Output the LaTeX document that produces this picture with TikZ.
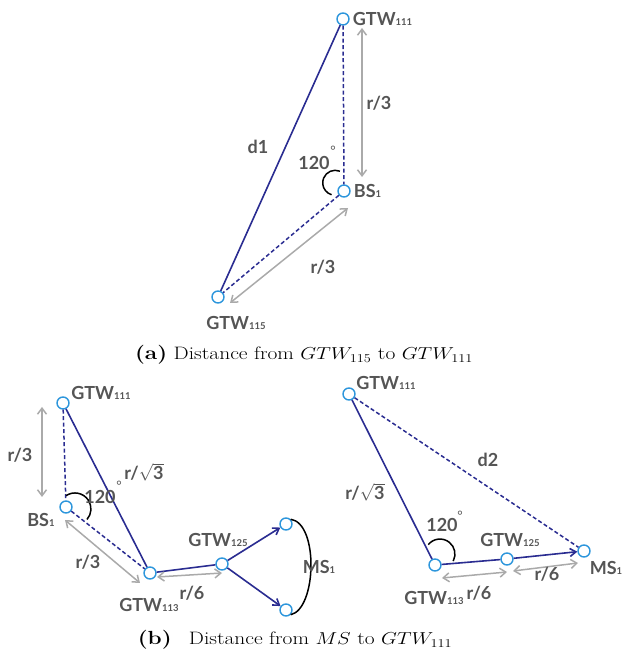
\documentclass[tikz,border=0pt]{standalone}
\usepackage{fontspec}
\newfontfamily\lato{Lato}
\usepackage{xcolor}
\definecolor{netblue}{RGB}{42,44,145}
\definecolor{stblue}{RGB}{45,150,220}
\definecolor{dimgray}{RGB}{170,170,170}
\definecolor{txtgray}{RGB}{85,85,85}
\usetikzlibrary{positioning,arrows.meta,calc}
\newcommand{\lsub}[1]{{\fontsize{9.5}{9.5}\selectfont #1}}

\begin{document}
\begin{tikzpicture}[x=1pt, y=1pt,
  stn/.style={circle, draw=stblue, line width=1.4pt, fill=white, minimum size=12pt, inner sep=0pt},
  lbl/.style={text=txtgray, font=\lato\bfseries\fontsize{18}{18}\selectfont, inner sep=1pt},
  deg/.style={text=txtgray, font=\lato\fontsize{13}{13}\selectfont, inner sep=0pt},
  link/.style={netblue, line width=1.6pt},
  dlink/.style={netblue, line width=1.5pt, dash pattern=on 4pt off 2.5pt},
  flow/.style={link, -{Straight Barb[length=6pt,width=8pt]}},
  dim/.style={dimgray, line width=1.5pt, {Straight Barb[length=6pt,width=9pt]}-{Straight Barb[length=6pt,width=9pt]}},
  ang/.style={black, line width=1.5pt},
  captxt/.style={font=\fontsize{18}{21}\selectfont, xscale=1.19, inner sep=0pt}]
  \useasboundingbox (0,0) rectangle (624,654);

  % (a) GTW115 -> GTW111
  \node[stn] (ga111) at (343,635) {};
  \node[stn] (bsa) at (344,463) {};
  \node[stn] (ga115) at (218,357) {};
  \draw[link] (ga115) -- (ga111);
  \draw[dlink] (ga111) -- (bsa);
  \draw[dlink] (bsa) -- (ga115);
  \draw[dim] ([shift={(19,-9)}]ga111.center) -- ([shift={(18,14)}]bsa.center);
  \draw[dim] ([shift={(12,-6)}]ga115.center) -- ([shift={(4,-17)}]bsa.center);
  \draw[ang] ([shift={(-4.1,19.8)}]bsa.center) arc[start angle=68, end angle=253, radius=12.5];
  \node[lbl, right=2pt of ga111] (la111) {GTW\lsub{111}};
  \node[lbl, right=2pt of bsa] (lbsa) {BS\lsub{1}};
  \node[lbl] (la115) at (236,331) {GTW\lsub{115}};
  \node[lbl] (ld1) at (258,507) {d1};
  \node[lbl] (lra1) at (379,551) {r/3};
  \node[lbl] (lra2) at (323,387) {r/3};
  \node[lbl] (langa) at (314,491) {120};
  \node[deg] (dega) at (333,503) {°};
  \node[captxt] (capa) at (304,299) {\textbf{\fontsize{19}{21}\selectfont(a)} Distance from $GTW_{115}$ to $GTW_{111}$};

  % (b) left: relay through GTW125
  \node[stn] (gb111) at (63,251) {};
  \node[stn] (bsb) at (66,147) {};
  \node[stn] (gb113) at (150,81) {};
  \node[stn] (gb125) at (222,90) {};
  \node[stn] (mst) at (286,130) {};
  \node[stn] (msb) at (286,44) {};
  \draw[link] (gb111) -- (gb113);
  \draw[link] (gb113) -- (gb125);
  \draw[flow] (gb125) -- (mst);
  \draw[flow] (gb125) -- (msb);
  \draw[dlink] (gb111) -- (bsb);
  \draw[dlink] (bsb) -- (gb113);
  \draw[dim] ([shift={(-21,-4)}]gb111.center) -- ([shift={(-24,10)}]bsb.center);
  \draw[dim] ([shift={(-1,-13)}]bsb.center) -- ([shift={(-10,-10)}]gb113.center);
  \draw[dim] ([shift={(7,-4)}]gb113.center) -- ([shift={(0,-9)}]gb125.center);
  \draw[ang] ([shift={(0,11.3)}]bsb.center) arc[start angle=124, end angle=-41, radius=16];
  \draw[ang] (mst.north east) .. controls +(28,-4) and +(26,6) .. (msb.south east);
  \node[lbl] (lb111) at (101,261) {GTW\lsub{111}};
  \node[lbl] (lbsb) at (41,134) {BS\lsub{1}};
  \node[lbl] (lb113) at (149,49) {GTW\lsub{113}};
  \node[lbl] (lb125) at (218,114) {GTW\lsub{125}};
  \node[lbl] (lms) at (319,87) {MS\lsub{1}};
  \node[lbl] (lrb1) at (20,199) {r/3};
  \node[lbl] (lrb2) at (88,92) {r/3};
  \node[lbl] (lrb3) at (192,61) {r/6};
  \node[lbl] (lsqb) at (144,182) {r/$\sqrt{\mbox{3}}$};
  \node[lbl] (langb) at (100,157) {120};
  \node[deg] (degb) at (119,168) {°};

  % (b) right: MS1 -> GTW111
  \node[stn] (gc111) at (349,260) {};
  \node[stn] (gc113) at (435,89) {};
  \node[stn] (gc125) at (507,95) {};
  \node[stn] (msc) at (584,103) {};
  \draw[link] (gc111) -- (gc113);
  \draw[link] (gc113) -- (gc125);
  \draw[flow] (gc125) -- (msc);
  \draw[dlink] (gc111) -- (msc);
  \draw[dim] ([shift={(7,-13)}]gc113.center) -- ([shift={(0,-13)}]gc125.center);
  \draw[dim] ([shift={(6,-12)}]gc125.center) -- ([shift={(-6,-12)}]msc.center);
  \draw[ang] ([shift={(-6.7,20.4)}]gc113.center) arc[start angle=141, end angle=-28, radius=15];
  \node[lbl] (lc111) at (386,271) {GTW\lsub{111}};
  \node[lbl] (lc113) at (434,56) {GTW\lsub{113}};
  \node[lbl] (lc125) at (510,114) {GTW\lsub{125}};
  \node[lbl] (lmsc) at (606,86) {MS\lsub{1}};
  \node[lbl] (ld2) at (488,194) {d2};
  \node[lbl] (lrc1) at (479,61) {r/6};
  \node[lbl] (lrc2) at (547,80) {r/6};
  \node[lbl] (lsqc) at (365,162) {r/$\sqrt{\mbox{3}}$};
  \node[lbl] (langc) at (442,129) {120};
  \node[deg] (degc) at (460,138) {°};
  \node[captxt] (capb) at (295,14) {\textbf{\fontsize{19}{21}\selectfont(b)}\hspace{0.8em}Distance from $MS$ to $GTW_{111}$};
\end{tikzpicture}
\end{document}
